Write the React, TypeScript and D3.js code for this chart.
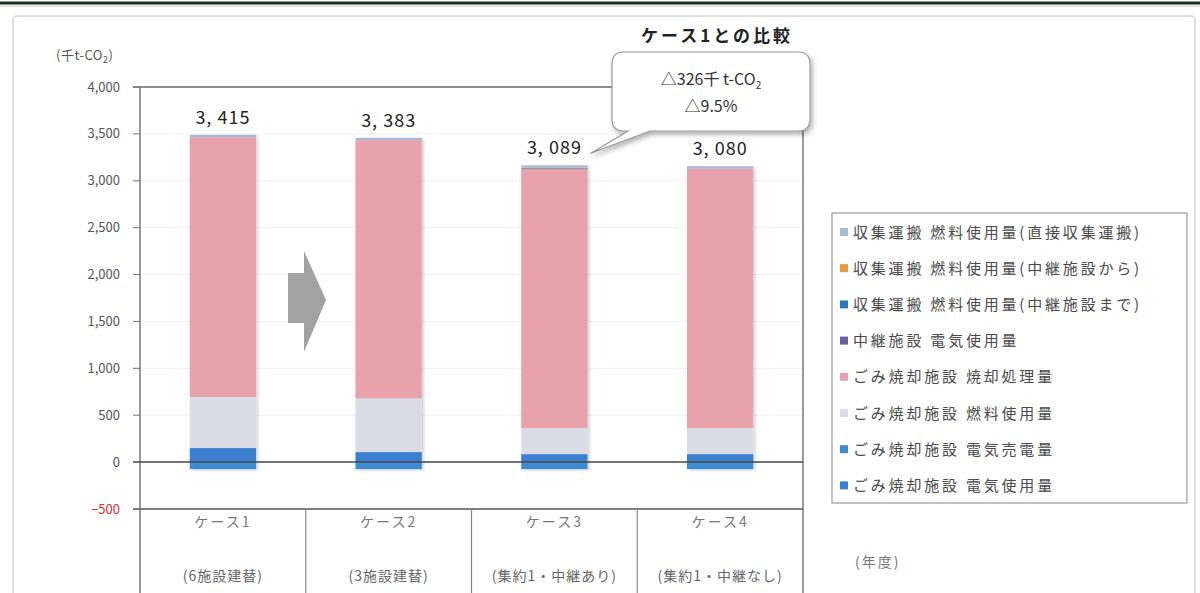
import React from "react";
import * as d3 from "d3";

const categories = ["ケース1", "ケース2", "ケース3", "ケース4"];
const subLabels = ["(6施設建替)", "(3施設建替)", "(集約1・中継あり)", "(集約1・中継なし)"];
const totals = [3415, 3383, 3089, 3080];

// stacked components (thousand t-CO2), bottom to top
const elecUse = [150, 107, 85, 85];
const elecSale = [-75, -75, -75, -75];
const fuelUse = [545, 573, 278, 278];
const incineration = [2770, 2753, 2761, 2767];
const relayElec = [0, 0, 5, 0];
const toRelay = [0, 0, 5, 0];
const fromRelay = [0, 0, 5, 0];
const direct = [25, 25, 25, 25];

const seriesNames = [
  "ごみ焼却施設 電気使用量",
  "ごみ焼却施設 電気売電量",
  "ごみ焼却施設 燃料使用量",
  "ごみ焼却施設 焼却処理量",
  "中継施設 電気使用量",
  "収集運搬 燃料使用量(中継施設まで)",
  "収集運搬 燃料使用量(中継施設から)",
  "収集運搬 燃料使用量(直接収集運搬)",
];
const seriesValues = [elecUse, elecSale, fuelUse, incineration, relayElec, toRelay, fromRelay, direct];
const seriesColors = ["#3a7fd0", "#3d8bd0", "#dcdce6", "#e8a2ab", "#6c5fa0", "#2f78b8", "#e89a3c", "#a9b8d8"];

const yTicks = [-500, 0, 500, 1000, 1500, 2000, 2500, 3000, 3500, 4000];
const calloutLines = ["△326千 t-CO", "△9.5%"];

const FONT = "'Noto Sans CJK JP', 'Noto Sans', sans-serif";

export default function App() {
  const left = 140, right = 803, top = 87, bottom = 509;
  const y = d3.scaleLinear().domain([-500, 4000]).range([bottom, top]);
  const x = d3.scaleBand<string>().domain(categories).range([left, right]).padding(0);
  const barW = x.bandwidth() * 0.4;

  const rows = categories.map((c, i) => {
    const r: any = { cat: c };
    seriesNames.forEach((s, k) => (r[s] = seriesValues[k][i]));
    return r;
  });
  const stacked = d3.stack<any>().keys(seriesNames).offset(d3.stackOffsetDiverging)(rows);
  const fmt = d3.format(",");

  const legendOrder = seriesNames.map((_, i) => i).reverse();

  const cx0 = 612, cy0 = 52, cx1 = 810, cy1 = 131, r = 12;
  const tip = [x(categories[2])! + x.bandwidth() / 2 + 36, y(totals[2]) - 19];
  const calloutPath = `M${cx0 + r},${cy0} H${cx1 - r} Q${cx1},${cy0} ${cx1},${cy0 + r} V${cy1 - r} Q${cx1},${cy1} ${cx1 - r},${cy1} H650 L${tip[0]},${tip[1]} L628,${cy1} H${cx0 + r} Q${cx0},${cy1} ${cx0},${cy1 - r} V${cy0 + r} Q${cx0},${cy0} ${cx0 + r},${cy0} Z`;

  return (
    <svg width={1200} height={593} style={{ position: "absolute", left: 0, top: 0, background: "#fff" }} fontFamily={FONT}>
      <defs>
        <filter id="sh" x="-20%" y="-20%" width="140%" height="160%">
          <feDropShadow dx="2" dy="3" stdDeviation="2.5" floodColor="#000" floodOpacity="0.3" />
        </filter>
        <filter id="bsh" x="-20%" y="-5%" width="140%" height="110%">
          <feDropShadow dx="2" dy="1" stdDeviation="1.5" floodColor="#000" floodOpacity="0.18" />
        </filter>
      </defs>
      <line x1={0} x2={1200} y1={3} y2={3} stroke="#1a2a1a" strokeWidth={3} />
      <line x1={0} x2={1200} y1={6} y2={6} stroke="#c8d0c8" strokeWidth={1} />
      <rect x={13} y={16} width={1182} height={600} rx={4} fill="none" stroke="#d4d4d4" strokeWidth={1.5} />

      {yTicks.filter((t) => t !== 0 && t !== -500 && t !== 4000).map((t) => (
        <line key={"g" + t} x1={left} x2={right} y1={y(t)} y2={y(t)} stroke="#f2f2f2" strokeWidth={1} />
      ))}

      <g filter="url(#bsh)">
        {stacked.map((s, k) => (
          <g key={s.key} fill={seriesColors[k]}>
            {s.map((d, i) => {
              const h = Math.abs(y(d[0]) - y(d[1]));
              if (h < 0.01) return null;
              return (
                <rect key={i} x={x(categories[i])! + (x.bandwidth() - barW) / 2} y={Math.min(y(d[0]), y(d[1]))} width={barW} height={h} />
              );
            })}
          </g>
        ))}
      </g>

      <line x1={left - 7} x2={right} y1={top} y2={top} stroke="#6a6a6a" strokeWidth={1.5} />
      <line x1={right} x2={right} y1={top} y2={593} stroke="#7a7a7a" strokeWidth={1.5} />
      <line x1={left} x2={left} y1={top} y2={593} stroke="#777" strokeWidth={1.5} />
      <line x1={left - 7} x2={right} y1={y(0)} y2={y(0)} stroke="#444" strokeWidth={1.5} />
      <line x1={left - 7} x2={right} y1={y(-500)} y2={y(-500)} stroke="#555" strokeWidth={1.5} />
      {categories.slice(1).map((c) => (
        <line key={"d" + c} x1={x(c)!} x2={x(c)!} y1={bottom} y2={593} stroke="#888" strokeWidth={1.2} />
      ))}
      {yTicks.map((t) => (
        <g key={"t" + t}>
          <line x1={left - 7} x2={left} y1={y(t)} y2={y(t)} stroke="#777" />
          <text x={120} y={y(t) + 4.5} textAnchor="end" fontSize={13} fill={t < 0 ? "#e03030" : "#555"}>
            {fmt(t)}
          </text>
        </g>
      ))}
      <text x={56} y={60} fontSize={13} fill="#555" letterSpacing={0.5}>
        (千t-CO<tspan fontSize={9} dy={3}>2</tspan><tspan dy={-3}>)</tspan>
      </text>

      {categories.map((c, i) => (
        <g key={"c" + c}>
          <text x={x(c)! + x.bandwidth() / 2} y={527} textAnchor="middle" fontSize={14} fill="#777" letterSpacing={2}>
            {c}
          </text>
          <text x={x(c)! + x.bandwidth() / 2} y={581} textAnchor="middle" fontSize={14} fill="#666" letterSpacing={1}>
            {subLabels[i]}
          </text>
        </g>
      ))}
      <text x={855} y={567} fontSize={14} fill="#777" letterSpacing={2}>(年度)</text>

      {categories.map((c, i) => (
        <text key={"v" + c} x={x(c)! + x.bandwidth() / 2} y={y(totals[i]) - 18} textAnchor="middle" fontSize={18} fill="#222" letterSpacing={1}>
          {fmt(totals[i]).replace(",", ", ")}
        </text>
      ))}

      <path d="M288,273 H304 V251 L326,300 L304,352 V323 H288 Z" fill="#a2a2a2" />

      <text x={717} y={42} textAnchor="middle" fontSize={17} fontWeight="bold" fill="#222" letterSpacing={3}>
        ケース1との比較
      </text>
      <path d={calloutPath} fill="#fff" stroke="#9a9a9a" strokeWidth={1.2} filter="url(#sh)" />
      <text x={711} y={85} textAnchor="middle" fontSize={16} fill="#333">
        {calloutLines[0]}<tspan fontSize={10} dy={4}>2</tspan>
      </text>
      <text x={711} y={112} textAnchor="middle" fontSize={16} fill="#333">
        {calloutLines[1]}
      </text>

      <rect x={832} y={213} width={355} height={290} fill="#fff" stroke="#999" strokeWidth={1.2} />
      {legendOrder.map((k, j) => (
        <g key={"l" + k} transform={`translate(840, ${232 + j * 36.2})`}>
          <rect x={0} y={-4} width={8} height={8} fill={seriesColors[k]} />
          <text x={13} y={5.5} fontSize={15} fill="#4a4a4a" letterSpacing={2.8}>
            {seriesNames[k]}
          </text>
        </g>
      ))}
    </svg>
  );
}
